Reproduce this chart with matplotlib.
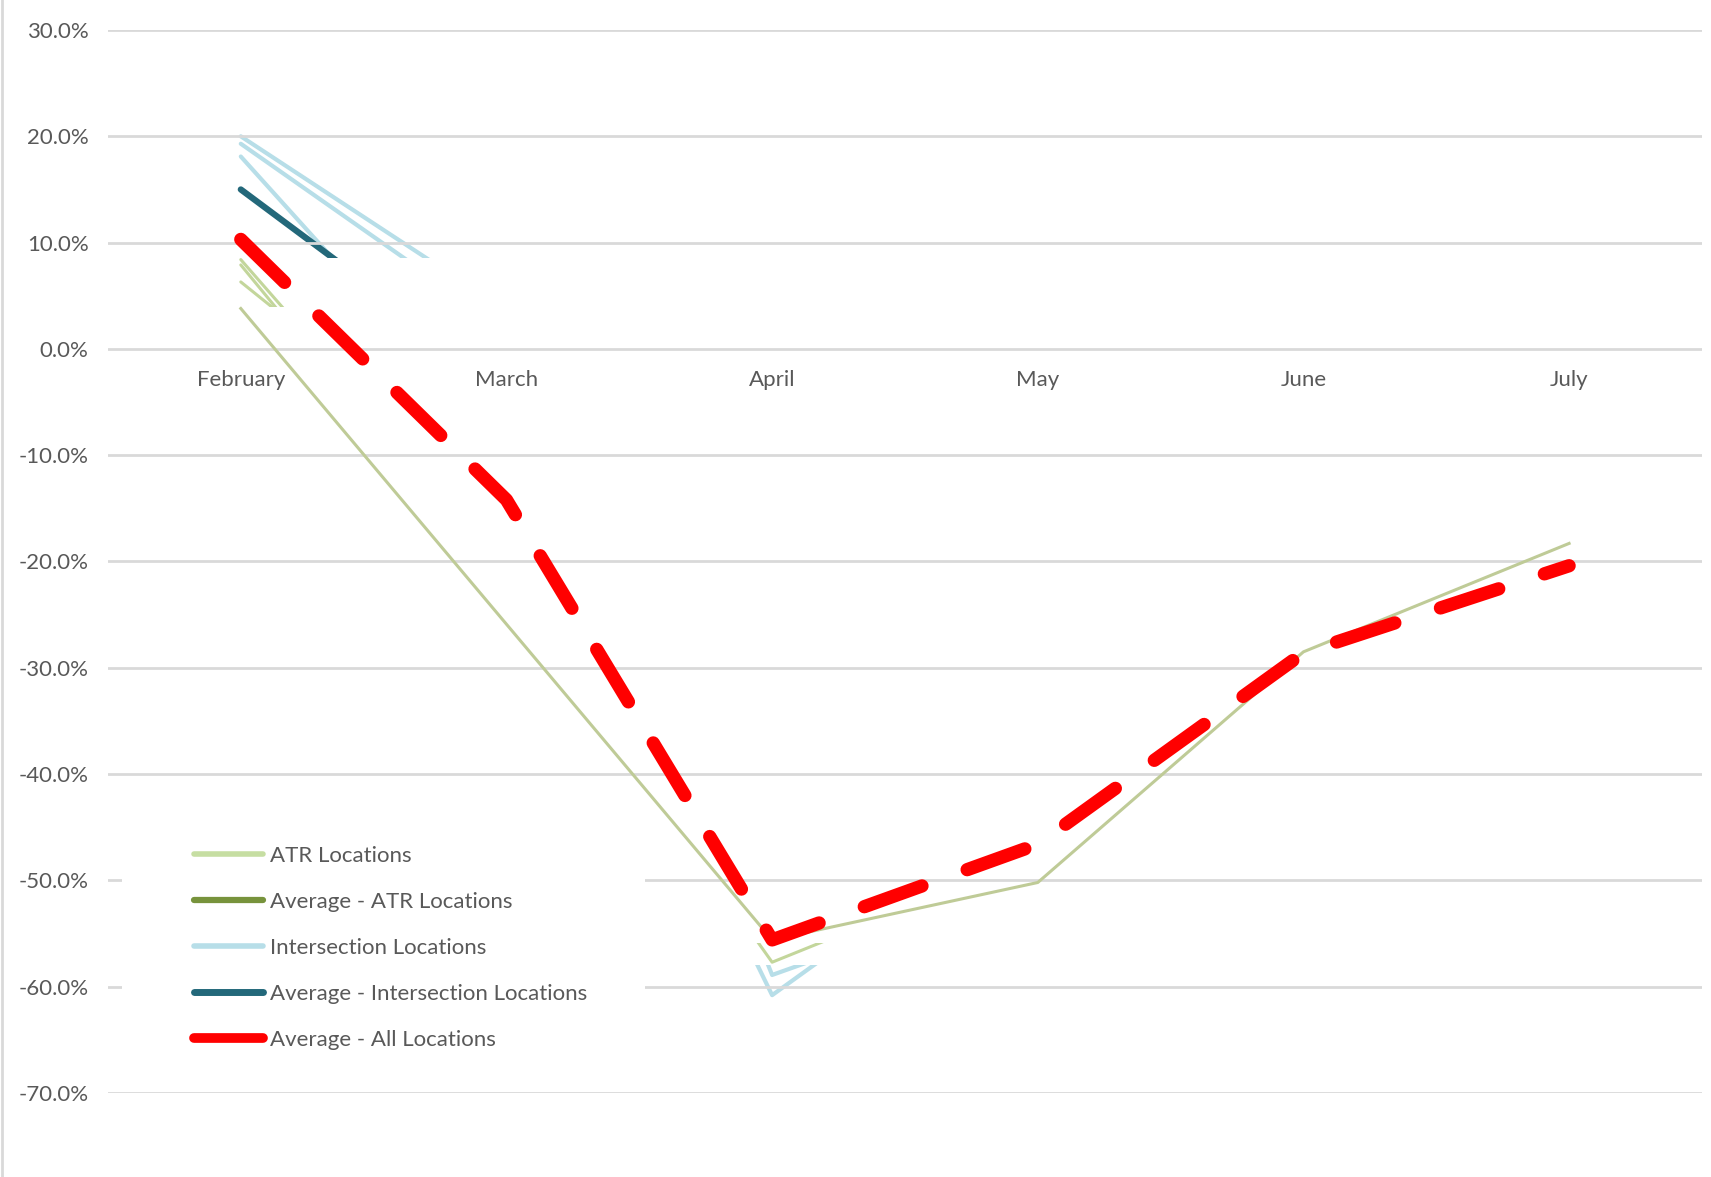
import matplotlib
matplotlib.use('Agg')
import matplotlib.pyplot as plt
from matplotlib.lines import Line2D
from matplotlib.patches import Rectangle

plt.rcParams['font.family'] = ['Lato', 'DejaVu Sans']

months = ['February', 'March', 'April', 'May', 'June', 'July']

# percentage change per month
atr_main = [3.8, -25.9, -55.6, -50.2, -28.5, -18.3]
atr_other = [
    [8.4, -20.2, -53.0, -45.0, -31.0, -23.0],
    [7.9, -22.5, -57.7, -47.6, -30.0, -22.0],
    [6.3, -13.8, -52.0, -44.0, -27.0, -20.0],
]
intersection = [
    [20.0, 3.6, -58.9, -50.0, -35.0, -25.0],
    [19.3, 1.8, -54.0, -45.0, -30.0, -22.0],
    [18.1, -9.6, -60.8, -42.8, -32.0, -24.0],
]
avg_intersection = [15.0, -3.6, -57.0, -45.9, -32.3, -23.7]
avg_all = [10.3, -14.2, -55.6, -46.6, -28.6, -20.4]

legend_labels = ['ATR Locations', 'Average - ATR Locations', 'Intersection Locations',
                 'Average - Intersection Locations', 'Average - All Locations']

# white cover-ups that hide most of the individual location lines
blue_cover = (0.185, -58.0, 8.56)   # x start, y bottom, y top
green_cover = (-0.011, -55.9, 3.95)
legend_cover = (-0.447, -67.0, 1.97, 24.0)

x = list(range(len(months)))
txt = '#595959'
fs = 16

fig = plt.figure(figsize=(17.11, 11.77), dpi=100)
ax = fig.add_axes([0.0631, 0.0714, 0.9316, 0.9031])

for vals in intersection:
    ax.plot(x, vals, color='#b7dee8', lw=3, zorder=1.0, solid_capstyle='round')
ax.plot(x, avg_intersection, color='#23687a', lw=4.5, zorder=1.0, solid_capstyle='round')
ax.add_patch(Rectangle((blue_cover[0], blue_cover[1]), 5.5 - blue_cover[0],
                       blue_cover[2] - blue_cover[1], fc='white', ec='none', zorder=1.1))

for vals in atr_other:
    ax.plot(x, vals, color='#c3d69b', lw=2.2, zorder=1.2, solid_capstyle='round')
ax.add_patch(Rectangle((green_cover[0], green_cover[1]), 5.5 - green_cover[0],
                       green_cover[2] - green_cover[1], fc='white', ec='none', zorder=1.3))

ax.add_patch(Rectangle((legend_cover[0], legend_cover[1]), legend_cover[2], legend_cover[3],
                       fc='white', ec='none', zorder=2.6))

ax.plot(x, atr_main, color='#bfcb97', lw=2.2, zorder=3)
ax.plot(x, avg_all, color='#ff0000', lw=9.6, dashes=(4.6, 3.6),
        dash_capstyle='round', solid_capstyle='round', zorder=4)

ax.set_xlim(-0.5, 5.5)
ax.set_ylim(-70, 30)
ax.set_xticks(x)
ax.set_xticklabels(months)
yt = list(range(-70, 31, 10))
ax.set_yticks(yt)
ax.set_yticklabels([f'{v:.1f}%' for v in yt])
ax.grid(axis='y', color='#d9d9d9', lw=2.0)
ax.set_axisbelow(False)
for s in ax.spines.values():
    s.set_visible(False)
ax.spines['bottom'].set_position(('data', 0))
ax.tick_params(axis='y', length=0, pad=14, labelsize=fs, labelcolor=txt)
ax.tick_params(axis='x', length=0, pad=15, labelsize=fs, labelcolor=txt)

handles = [
    Line2D([], [], color='#c6dea2', lw=4, solid_capstyle='round'),
    Line2D([], [], color='#77933c', lw=4.5, solid_capstyle='round'),
    Line2D([], [], color='#b7dee8', lw=4, solid_capstyle='round'),
    Line2D([], [], color='#23687a', lw=5, solid_capstyle='round'),
    Line2D([], [], color='#ff0000', lw=7, solid_capstyle='round'),
]
leg = ax.legend(handles, legend_labels, loc='upper left',
                bbox_to_anchor=(194 / 1711, 1 - 846 / 1177), bbox_transform=fig.transFigure,
                frameon=False, handlelength=3.1, handletextpad=0.3, labelspacing=1.17,
                borderpad=0, borderaxespad=0, fontsize=fs, labelcolor=txt)
leg.set_zorder(5)

fig.add_artist(Line2D([0.0012, 0.0012], [0, 1], color='#d9d9d9', lw=2, transform=fig.transFigure))

fig.savefig('out.png', dpi=100)
